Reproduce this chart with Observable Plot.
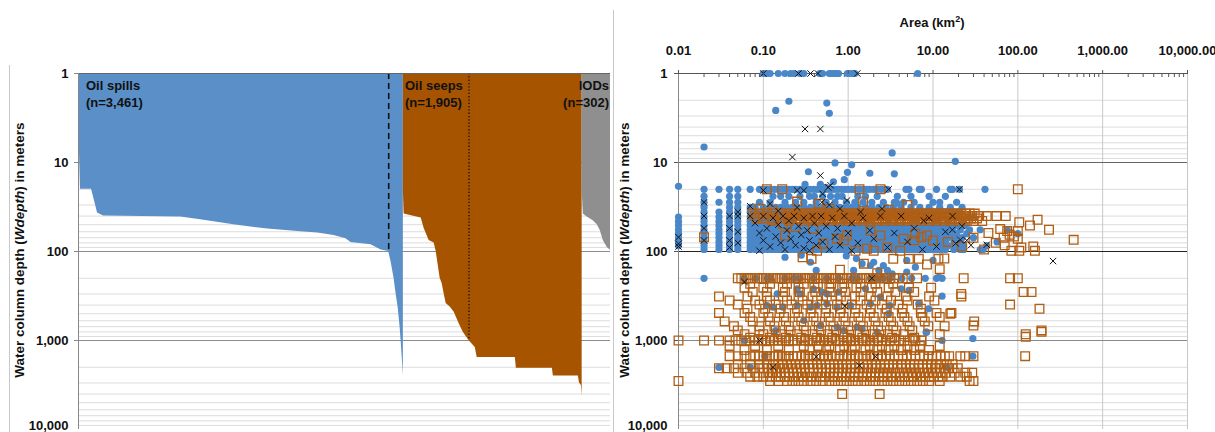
<!DOCTYPE html>
<html><head><meta charset="utf-8">
<script src="https://cdn.jsdelivr.net/npm/d3@7"></script>
<script src="https://cdn.jsdelivr.net/npm/@observablehq/plot@0.6"></script>
<style>
body{margin:0;background:#fff;font-family:"Liberation Sans",Arial,sans-serif;}
#wrap{position:relative;width:1215px;height:432px;overflow:hidden;background:#fff;}
#left{position:absolute;left:0;top:0;width:613px;height:432px;}
#right{position:absolute;left:613px;top:0;width:602px;height:432px;}
.frame{position:absolute;background:#c8c8c8;width:1px;}
.ytitle{position:absolute;transform:translate(-50%,-50%) rotate(-90deg);white-space:nowrap;font-weight:bold;font-size:13.5px;color:#111;}
.label{position:absolute;font-weight:bold;font-size:13px;color:#111;line-height:17px;white-space:nowrap;}
.xtitle{position:absolute;transform:translate(-50%,-50%);font-weight:bold;font-size:13px;color:#111;white-space:nowrap;}
</style></head>
<body>
<div id="wrap">
  <div id="left"></div>
  <div id="right"></div>
  <div class="frame" style="left:9px;top:65px;height:367px;"></div>
  <div class="frame" style="left:613px;top:10px;height:422px;"></div>
  <div class="ytitle" style="left:19px;top:250px;">Water column depth (<i>Wdepth</i>) in meters</div>
  <div class="ytitle" style="left:624px;top:250px;">Water column depth (<i>Wdepth</i>) in meters</div>
  <div class="xtitle" style="left:932px;top:22px;">Area (km<sup style="font-size:9px">2</sup>)</div>
  <div class="label" style="left:86px;top:77px;">Oil spills<br>(n=3,461)</div>
  <div class="label" style="left:405px;top:77px;">Oil seeps<br>(n=1,905)</div>
  <div class="label" style="right:606px;top:77px;text-align:right;">IODs<br>(n=302)</div>
</div>
<script>
// ---------- Left panel: sorted water depth by rank ----------
const nSpills = 3461, nSeeps = 1905, nIODs = 302;
const totalN = nSpills + nSeeps + nIODs;
const spillRank  = [0, 11, 21, 139, 171, 203, 267, 1089, 1302, 1654, 2017, 2370, 2551, 2722, 2850, 2903, 3117, 3224, 3305, 3330, 3362, 3384, 3405, 3426, 3437, 3448, 3461];
const spillDepth = [1, 8, 20, 20, 27, 37, 40, 41, 44, 50, 56, 60, 62, 66, 72, 79, 84, 96, 100, 130, 200, 300, 420, 700, 1000, 1500, 2500];
const seepRank  = [3461, 3469, 3651, 3683, 3736, 3789, 3811, 3853, 3875, 3896, 3917, 3960, 4003, 4056, 4099, 4160, 4227, 4248, 4654, 4665, 5049, 5059, 5326, 5337, 5358, 5366];
const seepDepth = [20, 38, 42, 55, 75, 80, 100, 200, 230, 300, 385, 420, 480, 650, 810, 1000, 1200, 1550, 1550, 2050, 2050, 2500, 2500, 3000, 3200, 4200];
const iodRank  = [5366, 5378, 5420, 5484, 5527, 5559, 5591, 5634, 5668];
const iodDepth = [20, 38, 41, 45, 50, 58, 75, 90, 97];
const spillCutRank = 3305;   // dashed line, 100 m
const seepCutRank = 4160;    // dotted line, 1,000 m

const yTicks = [1, 10, 100, 1000];
const yBottomTick = [10000];
const yMajorGrid = [10, 100, 1000];
const yMinorGrid = [2,3,4,5,6,7,8,9,20,30,40,50,60,70,80,90,200,300,400,500,600,700,800,900,2000,3000,4000,5000,6000,7000,8000,9000];

// ---------- Right panel: area vs depth ----------
const xTicks = [0.01, 0.1, 1, 10, 100, 1000, 10000];
const xTickLabels = ["0.01", "0.10", "1.00", "10.00", "100.00", "1,000.00", "10,000.00"];
const xMinorTicks = [0.02,0.03,0.04,0.05,0.06,0.07,0.08,0.09,0.2,0.3,0.4,0.5,0.6,0.7,0.8,0.9,2,3,4,5,6,7,8,9,20,30,40,50,60,70,80,90,200,300,400,500,600,700,800,900,2000,3000,4000,5000,6000,7000,8000,9000];

// Oil spills: rows [depth, areas]
const spillRows = [
 [1, [0.1,0.11,0.12,0.15,0.18,0.21,0.23,0.27,0.3,0.46,0.5,0.6,0.64,0.68,0.72,0.77,0.98,1.05,1.12,1.2,6.6]],
 [20, [0.02,0.03,0.04,0.05,0.07,0.09,0.1,0.11,0.12,0.135,0.15,0.165,0.18,0.2,0.22,0.24,0.27,0.29,0.32,0.35,0.39,0.43,0.47,0.52,0.57,0.63,0.69,0.76,0.84,0.92,1.0,1.1,1.2,1.35,1.5,1.65,1.8,2.0,2.2,2.45,2.7,2.9,4.8,5.2,6.9,7.3,11,16,17,20.5,41]],
 [24, [0.02,0.04,0.05,0.13,0.16,0.2,0.27,0.35,0.4,0.5,0.62,0.75,0.85,1.3,1.6,2.2,3.8,5.5,9,14]],
 [28, [0.02,0.03,0.04,0.05,0.09,0.12,0.18,0.24,0.3,0.42,0.55,0.7,0.95,1.2,1.5,1.9,2.6,3.5,4.5,6,10,12,19]],
 [32, [0.02,0.04,0.05,0.07,0.08,0.1,0.12,0.14,0.16,0.19,0.22,0.25,0.3,0.36,0.42,0.5,0.6,0.7,0.8,0.95,1.1,1.3,1.6,1.9,2.3,2.8,3.4,4.2,5.5,7,9,12,16,22]],
 [36, [0.02,0.03,0.04,0.05,0.07,0.08,0.09,0.1,0.11,0.12,0.14,0.16,0.18,0.2,0.23,0.26,0.3,0.34,0.39,0.45,0.5,0.58,0.66,0.75,0.85,0.97,1.1,1.25,1.45,1.65,1.9,2.2,2.5,2.9,3.3,3.8,4.4,5,5.8,6.6,7.6,8.8,10,12,14,17,20]],
 [41, [0.01,0.02,0.03,0.04,0.05,0.07,0.08,0.09,0.1,0.11,0.125,0.14,0.16,0.18,0.2,0.25,0.35,0.6,1.2,2.5,5,10,18,28]],
 [46, [0.01,0.02,0.03,0.04,0.05,0.07,0.08,0.09,0.1,0.115,0.13,0.15,0.17,0.19,0.22,0.3,0.5,0.9,1.7,3,6,11,15,22]],
 [51, [0.01,0.02,0.03,0.04,0.05,0.07,0.075,0.082,0.09,0.1,0.11,0.12,0.135,0.15,0.165,0.18,0.2,0.22,0.245,0.27,0.3,0.33,0.365,0.4,0.44,0.49,0.54,0.6,0.66,0.73,0.8,0.88,0.97,1.07,1.18,1.3,1.43,1.58,1.74,1.92,2.1,2.3,2.55,2.8,3.1,3.4,3.75,4.15,4.6,5.1,5.6,6.2,6.9,7.6,8.4,9.3,10.3,11.4,12.6,14,16,19,24]],
 [57, [0.01,0.02,0.03,0.04,0.05,0.07,0.078,0.086,0.095,0.105,0.115,0.127,0.14,0.155,0.17,0.19,0.21,0.23,0.255,0.28,0.31,0.34,0.375,0.415,0.46,0.5,0.56,0.62,0.68,0.75,0.83,0.92,1.01,1.12,1.23,1.36,1.5,1.65,1.82,2.0,2.2,2.45,2.7,2.95,3.25,3.6,4.0,4.4,4.85,5.35,5.9,6.5,7.2,8,8.8,9.7,10.7,11.8,13,15,17,21,27,36,75]],
 [63, [0.01,0.02,0.03,0.04,0.05,0.07,0.076,0.084,0.092,0.1,0.11,0.122,0.135,0.148,0.163,0.18,0.2,0.22,0.24,0.265,0.29,0.32,0.355,0.39,0.43,0.475,0.52,0.58,0.64,0.7,0.77,0.85,0.94,1.04,1.15,1.27,1.4,1.54,1.7,1.87,2.06,2.27,2.5,2.76,3.04,3.35,3.7,4.1,4.5,5,5.5,6.05,6.7,7.4,8.1,9,9.9,10.9,12,13.5,16,19,25,100]],
 [70, [0.01,0.02,0.03,0.04,0.05,0.07,0.08,0.088,0.097,0.107,0.118,0.13,0.143,0.158,0.174,0.19,0.21,0.232,0.255,0.28,0.31,0.34,0.375,0.41,0.455,0.5,0.55,0.61,0.67,0.74,0.81,0.9,0.99,1.09,1.2,1.32,1.45,1.6,1.76,1.94,2.14,2.36,2.6,2.86,3.15,3.47,3.82,4.2,4.6,5.1,5.6,6.2,6.8,7.5,8.3,9.1,10,11,12.2,13.4,15,18,22,30]],
 [78, [0.01,0.02,0.03,0.04,0.05,0.07,0.077,0.085,0.094,0.103,0.114,0.125,0.138,0.152,0.167,0.184,0.2,0.223,0.245,0.27,0.3,0.33,0.36,0.4,0.44,0.485,0.53,0.585,0.645,0.71,0.78,0.86,0.95,1.05,1.15,1.27,1.4,1.54,1.7,1.87,2.05,2.26,2.5,2.75,3.0,3.3,3.65,4.0,4.4,4.85,5.35,5.9,6.5,7.1,7.8,8.6,9.5,10.5,11.6,12.8,14,17.6,21,57]],
 [86, [0.01,0.02,0.03,0.04,0.05,0.07,0.079,0.087,0.096,0.106,0.117,0.129,0.142,0.156,0.172,0.19,0.208,0.23,0.253,0.278,0.306,0.337,0.37,0.41,0.45,0.495,0.545,0.6,0.66,0.73,0.8,0.88,0.97,1.07,1.18,1.3,1.43,1.57,1.73,1.9,2.1,2.3,2.55,2.8,3.1,3.4,3.75,4.1,4.5,5,5.5,6.1,6.7,7.4,8.1,8.9,9.8,10.8,12,13.2,15,19,23,43]],
 [95, [0.02,0.03,0.04,0.05,0.07,0.08,0.09,0.1,0.112,0.125,0.14,0.155,0.172,0.19,0.21,0.235,0.26,0.29,0.32,0.355,0.39,0.43,0.48,0.53,0.59,0.65,0.72,0.8,0.88,0.97,1.08,1.2,1.33,1.47,1.63,1.8,2.0,2.2,2.45,2.7,3.0,3.3,3.65,4.05,4.5,5,5.5,6.1,6.8,7.5,8.3,9.2,10.2,11.3,12.5,14,17.6,21,23,36,39]]
];
// Oil spills: scattered points [area, depth]
const spillPoints = [
 [0.14,2.6],[0.2,2.05],[0.56,2.15],[0.6,2.8],[0.02,6.7],[3.3,7.8],[18.3,9.7],[0.7,10.1],[1.1,10.6],
 [0.34,12.7],[0.98,12.9],[1.8,13.2],[3.5,13.4],[0.9,15.6],[0.67,16.5],[0.31,17.6],[0.47,17.6],[0.55,19],[0.01,18.5],[3.75,28.6],
 [0.18,116],[0.36,132],[0.42,163],[1.16,163],[1.46,137],[1.83,144],[2.0,132],[2.3,163],[2.6,144],[2.9,163],[3.3,178],[4.9,126],[4.9,170],[6.2,150],[10,126],[0.28,110],[0.95,112],[1.25,120],
 [0.02,200],[0.059,200],[0.081,200],[0.111,200],[0.122,200],[0.18,200],[0.228,200],[0.27,200],[0.39,200],[0.56,200],[0.77,200],[1.11,200],[1.27,200],[1.83,200],[2.19,200],[2.6,200],[3.1,200],[4.3,200],[5.6,200],[8.1,200],[11,200],[11.7,195],[12.8,200],
 [0.146,299],[0.25,262],[0.27,299],[0.39,262],[0.49,286],[0.56,299],[0.77,286],[1.6,262],[2.4,326],[4.2,262],[5.2,274],[12.8,318],
 [0.11,405],[0.13,422],[0.17,422],[0.25,405],[0.36,422],[0.43,405],[0.56,387],[0.74,422],[1.07,405],[1.83,387],[3.1,405],[6.8,387],[8.9,440],
 [0.3,596],[0.47,678],[0.74,707],[0.88,772],[1.27,707],[1.46,740],[2.2,806],[3.0,500],[8.3,806],[0.14,772],[8.4,807],
 [0.06,1000],[12.8,1000],[29.5,950],[0.104,1500],[29.5,1500],[0.03,2000],[0.07,2000],[14.6,2000]
];

// Oil seeps: rows [depth, areas]
const seepRows = [
 [20, [0.11,0.167,1.36,2.4,100]],
 [37.5, [0.075,0.09,0.11,0.13,0.16,0.19,0.21,0.23,0.25,0.28,0.31,0.34,0.37,0.41,0.45,0.49,0.54,0.59,0.65,0.71,0.78,0.86,0.94,1.03,1.13,1.24,1.36,1.49,1.63,1.79,1.96,2.15,2.36,2.59,2.84,3.1,3.4,3.75,4.1,4.5,4.95,5.4,5.95,6.5,7.15,7.8,8.6,9.4,10.3,11.3,12.4,13.6,14.9,16.4,18,19.7,21.6,24,27,31]],
 [40, [0.08,0.1,0.12,0.15,0.18,0.2,0.22,0.24,0.265,0.29,0.32,0.35,0.39,0.43,0.47,0.52,0.57,0.62,0.68,0.75,0.82,0.9,0.99,1.08,1.19,1.3,1.43,1.56,1.71,1.88,2.06,2.26,2.48,2.72,2.98,3.27,3.58,3.93,4.3,4.72,5.18,5.68,6.23,6.83,7.49,8.2,9,9.9,10.8,11.9,13,14.3,15.7,17.2,18.9,20.7,23,26,29,35,43,56,72]],
 [42.5, [0.085,0.1,0.13,0.17,0.2,0.22,0.25,0.27,0.3,0.33,0.36,0.4,0.44,0.48,0.53,0.58,0.64,0.7,0.77,0.84,0.92,1.01,1.11,1.22,1.34,1.47,1.61,1.77,1.94,2.13,2.33,2.56,2.81,3.08,3.38,3.7,4.06,4.46,4.89,5.36,5.88,6.45,7.07,7.76,8.5,9.3,10.2,11.2,12.3,13.5,14.8,16.2,17.8,19.5,21.4,24,28,33]],
 [45.5, [0.2,0.3,0.45,0.6,0.8,1.0,1.2,1.5,1.8,2.2,2.7,3.3,4,5,6,7.3,9,11,13.5,16,20,25,30,38]],
 [200, [0.05,0.055,0.06,0.066,0.072,0.08,0.088,0.097,0.107,0.118,0.13,0.143,0.158,0.174,0.19,0.21,0.23,0.255,0.28,0.31,0.34,0.375,0.41,0.45,0.5,0.55,0.6,0.66,0.72,0.8,0.88,0.97,1.07,1.2,1.3,1.45,1.6,1.75,1.95,2.15,2.35,2.6,2.85,3.15,3.5,3.9,4.4,5,6.5,23,81,100]],
 [230, [0.07,0.12,0.19,0.3,0.44,0.63,0.9,1.4,2.1,3.4]],
 [255, [0.06,0.1,0.17,0.26,0.4,0.6,0.85,1.25,1.9,3,5.2,9.5]],
 [285, [0.075,0.11,0.18,0.27,0.41,0.62,0.93,1.4,2.2,3.6,6,117,145]],
 [320, [0.03,0.065,0.11,0.17,0.26,0.38,0.56,0.82,1.2,1.85,2.9,4.8,9,21.6]],
 [355, [0.04,0.08,0.12,0.19,0.29,0.43,0.64,0.95,1.4,2.1,3.2,5,10.4]],
 [395, [0.05,0.09,0.14,0.215,0.33,0.49,0.74,1.1,1.65,2.5,3.9,6.6,81]],
 [440, [0.065,0.105,0.16,0.25,0.37,0.55,0.82,1.22,1.85,2.85,4.4,7.2,180]],
 [490, [0.03,0.06,0.1,0.155,0.235,0.36,0.54,0.8,1.2,1.8,2.75,4.3,7.2,11,16.5]],
 [545, [0.07,0.115,0.175,0.26,0.39,0.59,0.88,1.32,2.0,3.0,4.6,7.5,12]],
 [610, [0.035,0.075,0.12,0.185,0.28,0.42,0.62,0.93,1.4,2.1,3.2,5,8,30.6]],
 [690, [0.045,0.09,0.135,0.2,0.3,0.45,0.67,1.0,1.5,2.25,3.4,5.3,8.8,13.7]],
 [770, [0.05,0.09,0.14,0.21,0.32,0.48,0.72,1.08,1.62,2.45,3.7,5.7,190]],
 [850, [0.06,0.1,0.16,0.25,0.38,0.58,0.87,1.3,1.95,2.95,4.5,12,124]],
 [930, [0.07,0.12,0.185,0.28,0.43,0.65,0.98,1.47,2.2,3.3,6]],
 [1000, [0.01,0.02,0.03,0.04,0.047,0.055,0.063,0.07,0.078,0.087,0.097,0.108,0.12,0.133,0.148,0.165,0.183,0.2,0.225,0.25,0.28,0.31,0.34,0.38,0.42,0.47,0.52,0.58,0.64,0.71,0.79,0.88,0.97,1.08,1.2,1.33,1.48,1.64,1.82,2.0,2.25,2.5,2.8,3.1,3.5,4.0,4.6,5.3,6.2,7.3]],
 [1150, [0.04,0.08,0.15,0.3,0.45,0.6,0.9,1.2,1.8,2.5,3.5,5,7,12]],
 [1280, [0.06,0.11,0.2,0.35,0.55,0.8,1.1,1.6,2.2,3,4.2,6,9]],
 [1500, [0.04,0.05,0.06,0.07,0.08,0.09,0.1,0.11,0.12,0.135,0.15,0.165,0.183,0.2,0.225,0.25,0.28,0.31,0.34,0.38,0.42,0.47,0.52,0.58,0.64,0.71,0.79,0.88,0.97,1.08,1.2,1.33,1.48,1.64,1.82,2.0,2.25,2.5,2.8,3.1,3.5,3.9,4.4,4.9,5.5,6.2,7,7.8,8.8,9.8,11,12.3,13.8,15.5,21,24,30,122]],
 [1850, [0.05,0.07,0.09,0.11,0.13,0.15,0.17,0.19,0.21,0.24,0.27,0.3,0.34,0.38,0.43,0.48,0.54,0.6,0.68,0.76,0.85,0.95,1.07,1.2,1.35,1.5,1.7,1.9,2.1,2.4,2.7,3.0,3.4,3.8,4.2,4.8,5.4,6,6.8,7.6,8.5,9.5,11,12.5,14.5,17]],
 [2050, [0.03,0.037,0.045,0.06,0.075,0.09,0.1,0.112,0.125,0.14,0.157,0.176,0.197,0.22,0.247,0.277,0.31,0.35,0.39,0.44,0.49,0.55,0.62,0.69,0.78,0.87,0.97,1.09,1.22,1.37,1.54,1.72,1.93,2.16,2.42,2.71,3.04,3.4,3.8,4.3,4.8,5.4,6,6.7,7.5,8.5,9.5,10.6,12,13.5,15,17,19.6]],
 [2300, [0.05,0.065,0.08,0.1,0.115,0.13,0.145,0.16,0.18,0.2,0.225,0.25,0.28,0.31,0.35,0.39,0.44,0.49,0.55,0.61,0.68,0.76,0.85,0.95,1.06,1.19,1.33,1.48,1.66,1.85,2.07,2.31,2.58,2.89,3.23,3.6,4.03,4.5,5,5.6,6.3,7,7.9,8.8,9.8,11,12.3,14,18,24,29]],
 [2550, [0.07,0.085,0.1,0.12,0.14,0.16,0.18,0.2,0.23,0.26,0.29,0.33,0.37,0.42,0.47,0.53,0.6,0.67,0.75,0.84,0.94,1.05,1.18,1.32,1.48,1.66,1.86,2.08,2.33,2.6,2.92,3.27,3.66,4.1,4.6,5.1,5.8,6.5,7.2,8.1,9,10.2,11.5,13,16,21,25]],
 [2850, [0.01,0.12,0.15,0.19,0.22,0.26,0.3,0.36,0.42,0.5,0.6,0.7,0.82,0.96,1.13,1.3,1.55,1.8,2.1,2.5,2.9,3.4,4,4.7,5.5,6.5,7.6,9,12,27,30]]
];
// Oil seeps: scattered points [area, depth]
const seepPoints = [
 [0.25,27.5],[0.128,34.6],[0.45,29],[0.6,33],[1.5,28],[3,34],[5,30],[0.09,33],
 [104,47],[139,51],[171,44],[233,57],[455,74],
 [0.02,69],[0.18,66],[0.39,55.8],[1.83,58],[2.4,66],[4.5,72],[6.2,63],[8.5,66],[0.74,72],[0.97,66],[0.127,45],[0.17,49],[0.24,53],
 [0.51,82],[0.43,98],[0.89,75],[1.22,98],[2.0,98],[2.9,90],[4.1,98],[1.67,93],[6,75],[7.3,69],[10,75],
 [62,56],[75,59],[100,59],[80,65],[90,68],[68,70],[100,72],[55,80],[70,85],[110,90],[40,95],[22,88],[15,78],[30,70],[45,62],
 [0.29,116],[0.37,121],[1.53,137],[3.4,121],[5.2,121],[6.8,121],[11.6,121],[8.5,140],[13.6,120],[12,158],[84,98],[104,98],[159,98],[152,88],[0.8,160],[2.2,175],
 [21.5,300],[16,500],[30,680],[190,800],[124,910],[7.3,1000],[0.85,4000],[2.35,4000]
];
// IODs: points [area, depth]
const iodPoints = [
 [0.1,1],[0.26,1],[0.36,1],[0.44,1],[1.28,1],[0.31,4.2],[0.47,4.2],[0.22,8.7],[0.47,14],[0.62,18],[20.5,20],[260,128],
 [0.07,31],[0.12,29],[0.5,22.5],[0.58,19],[0.97,26.7],[3.0,20],[0.1,20.6],[0.25,20.6],[0.3,20.6],[0.49,28],
 [0.01,69],[0.01,82],[0.01,88],[0.02,28],[0.02,40],[0.02,55],[0.02,75],[0.04,40],[0.04,55],[0.04,75],[0.04,90],[0.05,40],[0.05,60],[0.05,80],
 [0.07,40],[0.08,48],[0.09,62],[0.1,40],[0.1,75],[0.11,55],[0.12,88],[0.13,42],[0.14,68],[0.15,50],[0.16,80],[0.17,40],[0.18,95],[0.19,58],[0.2,45],[0.21,72],[0.23,40],[0.24,85],[0.26,52],[0.28,65],[0.3,42],[0.3,92],[0.33,58],[0.35,75],[0.38,40],[0.4,48],[0.42,85],[0.45,62],[0.48,40],[0.5,78],[0.55,52],[0.6,95],[0.65,42],[0.7,68],[0.75,55],[0.8,85],[0.9,40],[1.0,62],[1.1,48],[1.3,80],[1.5,42],[1.8,58],[2.0,72],[2.4,40],[2.9,90],[3.5,62],[4.2,40],[5,78],[6,55],[7.5,95],[9,42],[11,88],[14,60],[17,40],[22,52],[25,75],[28,85],
 [0.09,98],[0.35,98],[1.1,98],[0.6,30],[0.8,33],[1.4,36],[2.5,33],[0.15,35],[0.25,32],[0.05,36],
 [7.8,45],[16.9,57],[21,74],[18.5,81],[43,84],
 [0.06,220],[0.09,1000],[0.13,2000],[0.42,1520],[0.91,410],[1.36,1900],[1.9,200],[2.1,1520]
];

// ---------- build tables ----------
const toRows = (ranks, depths) => ranks.map((r, i) => ({rank: r, depth: depths[i]}));
const spillCurve = toRows(spillRank, spillDepth);
const seepCurve = toRows(seepRank, seepDepth);
const iodCurve = toRows(iodRank, iodDepth);
const fromRows = rows => rows.flatMap(([d, areas]) => areas.map(a => ({area: a, depth: d})));
const fromPts = pts => pts.map(([a, d]) => ({area: a, depth: d}));
const spillData = fromRows(spillRows).concat(fromPts(spillPoints));
const seepData = fromRows(seepRows).concat(fromPts(seepPoints));
const iodData = fromPts(iodPoints);

const font = {fontFamily: '"Liberation Sans", Arial, sans-serif', fontSize: "13px", fontWeight: "bold", color: "#111", background: "transparent", overflow: "visible"};
const fmt = d3.format(",");

const left = Plot.plot({
  width: 613, height: 432, marginLeft: 78, marginRight: 3, marginTop: 73, marginBottom: 3,
  style: font,
  x: {domain: [0, totalN]},
  y: {type: "log", domain: [1, 10000], reverse: true},
  marks: [
    Plot.ruleY(yMinorGrid, {stroke: "#dcdcdc"}),
    Plot.ruleY(yMajorGrid, {stroke: "#8c8c8c"}),
    Plot.areaY(spillCurve, {x: "rank", y1: 1, y2: "depth", fill: "#5b8fc7"}),
    Plot.areaY(seepCurve, {x: "rank", y1: 1, y2: "depth", fill: "#a65400"}),
    Plot.areaY(iodCurve, {x: "rank", y1: 1, y2: "depth", fill: "#8f8f8f"}),
    Plot.ruleX([spillCutRank], {y1: 1, y2: 100, stroke: "#111", strokeWidth: 1.6, strokeDasharray: "6,4"}),
    Plot.ruleX([seepCutRank], {y1: 1, y2: 1000, stroke: "#111", strokeWidth: 1.3, strokeDasharray: "1.3,2"}),
    Plot.ruleY([1], {stroke: "#666", strokeWidth: 1.2}),
    Plot.ruleX([0], {stroke: "#888"}),
    Plot.axisY({ticks: yTicks, tickFormat: fmt, tickSize: 4, tickPadding: 6, label: null, stroke: "#888"}),
    Plot.axisY({ticks: yBottomTick, tickFormat: fmt, tickSize: 0, tickPadding: 10, dy: -4, label: null}),
    Plot.axisX({ticks: [], label: null})
  ]
});
document.getElementById("left").appendChild(left);

const right = Plot.plot({
  width: 602, height: 432, marginLeft: 65, marginRight: 28, marginTop: 73, marginBottom: 3,
  style: font,
  x: {type: "log", domain: [0.01, 10000]},
  y: {type: "log", domain: [1, 10000], reverse: true},
  marks: [
    Plot.ruleY(yMinorGrid, {stroke: "#dcdcdc"}),
    Plot.ruleX(xTicks.slice(1), {stroke: "#c8c8c8"}),
    Plot.ruleY([10], {stroke: "#666"}),
    Plot.ruleY([100], {stroke: "#222"}),
    Plot.ruleY([1000], {stroke: "#888"}),
    Plot.ruleX([0.01], {stroke: "#888"}),
    Plot.ruleY([1], {stroke: "#555"}),
    Plot.ruleX(xMinorTicks, {y1: 1, y2: 1.11, stroke: "#555"}),
    Plot.dot(spillData, {x: "area", y: "depth", r: 3.6, fill: "#4a87c9", stroke: "none"}),
    Plot.dot(seepData, {x: "area", y: "depth", symbol: "square", r: 4.9, fill: "none", stroke: "#b15e12", strokeWidth: 1.3}),
    Plot.dot(iodData, {x: "area", y: "depth", symbol: "times", r: 3, stroke: "#111", strokeWidth: 1}),
    Plot.axisX({anchor: "top", ticks: xTicks, tickFormat: d => xTickLabels[xTicks.indexOf(d)], tickSize: 4, tickPadding: 15, label: null, stroke: "#555"}),
    Plot.axisY({ticks: yTicks, tickFormat: fmt, tickSize: 4, tickPadding: 7, label: null, stroke: "#555"}),
    Plot.axisY({ticks: yBottomTick, tickFormat: fmt, tickSize: 0, tickPadding: 11, dy: -4, label: null})
  ]
});
document.getElementById("right").appendChild(right);
</script>
</body></html>
